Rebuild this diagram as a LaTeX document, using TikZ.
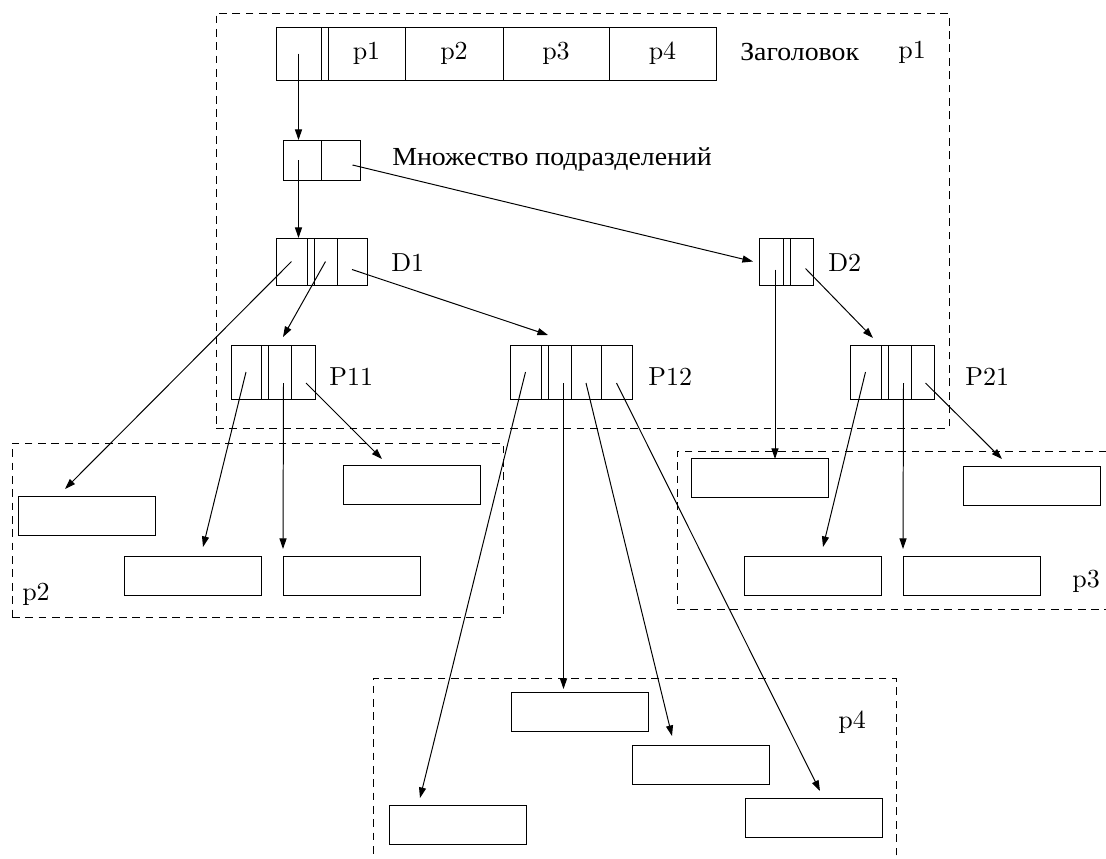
\documentclass[tikz,border=0pt]{standalone}
\usepackage{fontspec}
\usepackage{tikz}
\usetikzlibrary{arrows.meta,positioning,calc}
\newfontfamily\cyr[FakeStretch=1.07]{Liberation Serif}
\newfontfamily\lmten[Extension=.otf]{lmroman10-regular}
\newlength\px
\setlength\px{0.025cm}
\tikzset{
  cell/.style={draw, line width=0.7pt, inner sep=0pt, outer sep=0pt, font=\lmten\fontsize{18.5}{22}\selectfont},
  cw/.style={minimum width=#1\px},
  ch/.style={minimum height=#1\px},
  blank/.style={draw, line width=0.7pt, minimum width=137\px, minimum height=39\px, inner sep=0pt, outer sep=0pt, anchor=north west},
  frame/.style={draw, dash pattern=on 5.5pt off 4pt, line width=0.6pt, inner sep=0pt, outer sep=0pt, anchor=north west},
  lbl/.style={inner sep=0pt, anchor=base west, font=\lmten\fontsize{18.5}{22}\selectfont},
  arr/.style={-{Triangle[length=7.5pt,width=5pt]}, line width=0.7pt}}

\begin{document}
\begin{tikzpicture}[x=0.025cm, y=-0.025cm]
  \useasboundingbox (0,0) rectangle (1106,858);
  \clip (0,0) rectangle (1106,858);
  % dashed page frames
  \node[frame, cw=733, ch=415] (pg1) at (216,13) {};
  \node[frame, cw=491, ch=174] (pg2) at (12,443) {};
  \node[frame, cw=443, ch=158] (pg3) at (677,451) {};
  \node[frame, cw=523, ch=202] (pg4) at (373,678) {};
  % header record
  \node[cell, cw=45, ch=53, anchor=north west] (hdr0) at (276,27) {};
  \node[cell, cw=7, ch=53, right=0pt of hdr0] (hdr1) {};
  \node[cell, cw=77, ch=53, right=0pt of hdr1] (hdr2) {p1};
  \node[cell, cw=98, ch=53, right=0pt of hdr2] (hdr3) {p2};
  \node[cell, cw=106, ch=53, right=0pt of hdr3] (hdr4) {p3};
  \node[cell, cw=107, ch=53, right=0pt of hdr4] (hdr5) {p4};
  % set of departments
  \node[cell, cw=38, ch=40, anchor=north west] (set0) at (283,140) {};
  \node[cell, cw=39, ch=40, right=0pt of set0] (set1) {};
  % D1, D2
  \node[cell, cw=31, ch=47, anchor=north west] (d1a) at (276,238) {};
  \node[cell, cw=7, ch=47, right=0pt of d1a] (d1b) {};
  \node[cell, cw=23, ch=47, right=0pt of d1b] (d1c) {};
  \node[cell, cw=30, ch=47, right=0pt of d1c] (d1d) {};
  \node[cell, cw=24, ch=47, anchor=north west] (d2a) at (759,238) {};
  \node[cell, cw=7, ch=47, right=0pt of d2a] (d2b) {};
  \node[cell, cw=23, ch=47, right=0pt of d2b] (d2c) {};
  % P11, P12, P21
  \node[cell, cw=30, ch=54, anchor=north west] (p11a) at (231,345) {};
  \node[cell, cw=7, ch=54, right=0pt of p11a] (p11b) {};
  \node[cell, cw=23, ch=54, right=0pt of p11b] (p11c) {};
  \node[cell, cw=24, ch=54, right=0pt of p11c] (p11d) {};
  \node[cell, cw=31, ch=54, anchor=north west] (p12a) at (510,345) {};
  \node[cell, cw=7, ch=54, right=0pt of p12a] (p12b) {};
  \node[cell, cw=23, ch=54, right=0pt of p12b] (p12c) {};
  \node[cell, cw=30, ch=54, right=0pt of p12c] (p12d) {};
  \node[cell, cw=31, ch=54, right=0pt of p12d] (p12e) {};
  \node[cell, cw=31, ch=54, anchor=north west] (p21a) at (850,345) {};
  \node[cell, cw=7, ch=54, right=0pt of p21a] (p21b) {};
  \node[cell, cw=23, ch=54, right=0pt of p21b] (p21c) {};
  \node[cell, cw=23, ch=54, right=0pt of p21c] (p21d) {};
  % blank records
  \node[blank] (p2a) at (18,496) {};
  \node[blank] (p2b) at (124,556) {};
  \node[blank] (p2c) at (283,556) {};
  \node[blank] (p2d) at (343,465) {};
  \node[blank] (p3a) at (691,458) {};
  \node[blank] (p3b) at (963,466) {};
  \node[blank] (p3c) at (744,556) {};
  \node[blank] (p3d) at (903,556) {};
  \node[blank] (p4a) at (511,692) {};
  \node[blank] (p4b) at (632,745) {};
  \node[blank] (p4c) at (389,805) {};
  \node[blank] (p4d) at (745,798) {};
  % labels
  \node[lbl] (hdrlbl) at (740,60) {\cyr Заголовок};
  \node[lbl] (pg1lbl) at (898,58) {p1};
  \node[lbl] (setlbl) at (392,165) {\cyr Множество подразделений};
  \node[lbl] (d1lbl) at (391,271) {D1};
  \node[lbl] (d2lbl) at (828,271) {D2};
  \node[lbl] (p11lbl) at (329,385) {P11};
  \node[lbl] (p12lbl) at (648,385) {P12};
  \node[lbl] (p21lbl) at (965,385) {P21};
  \node[lbl] (pg2lbl) at (22,600) {p2};
  \node[lbl] (pg3lbl) at (1072,587) {p3};
  \node[lbl] (pg4lbl) at (838,728) {p4};
  % pointers
  \draw[arr] (hdr0.center) -- (hdr0.center |- set0.north);
  \draw[arr] (set0.center -| hdr0.center) -- (hdr0.center |- d1a.north);
  \draw[arr] ([shift={(12,5)}]set1.center) -- ([shift={(-6,0)}]d2a.west);
  \draw[arr] (d1a.center) -- ([shift={(47,-7)}]p2a.north west);
  \draw[arr] (d1c.center) -- ([shift={(15,-8)}]p11c.north west);
  \draw[arr] ([shift={(0,8)}]d1d.center) -- ([shift={(0,-10)}]p12c.north west);
  \draw[arr] ([shift={(4,8)}]d2a.center) -- ([shift={(4,8)}]d2a.center |- pg3.north);
  \draw[arr] ([shift={(4,7)}]d2c.center) -- ([shift={(23,-7)}]p21a.north west);
  \draw[arr] (p11a.center) -- ([shift={(79,-9)}]p2b.north west);
  \draw[arr] ([shift={(4,11)}]p11c.center) -- ([shift={(0,-7)}]p2c.north west);
  \draw[arr] ([shift={(3,11)}]p11d.center) -- ([shift={(39,-6)}]p2d.north west);
  \draw[arr] (p12a.center) -- ([shift={(31,-7)}]p4c.north west);
  \draw[arr] ([shift={(4,11)}]p12c.center) -- ([shift={(4,11)}]p12c.center |- pg4.north);
  \draw[arr] ([shift={(0,11)}]p12d.center) -- ([shift={(40,-9)}]p4b.north west);
  \draw[arr] ([shift={(0,11)}]p12e.center) -- ([shift={(75,-7)}]p4d.north west);
  \draw[arr] (p21a.center) -- ([shift={(79,-9)}]p3c.north west);
  \draw[arr] ([shift={(4,11)}]p21c.center) -- ([shift={(0,-7)}]p3d.north west);
  \draw[arr] ([shift={(3,11)}]p21d.center) -- ([shift={(39,-7)}]p3b.north west);
\end{tikzpicture}
\end{document}
